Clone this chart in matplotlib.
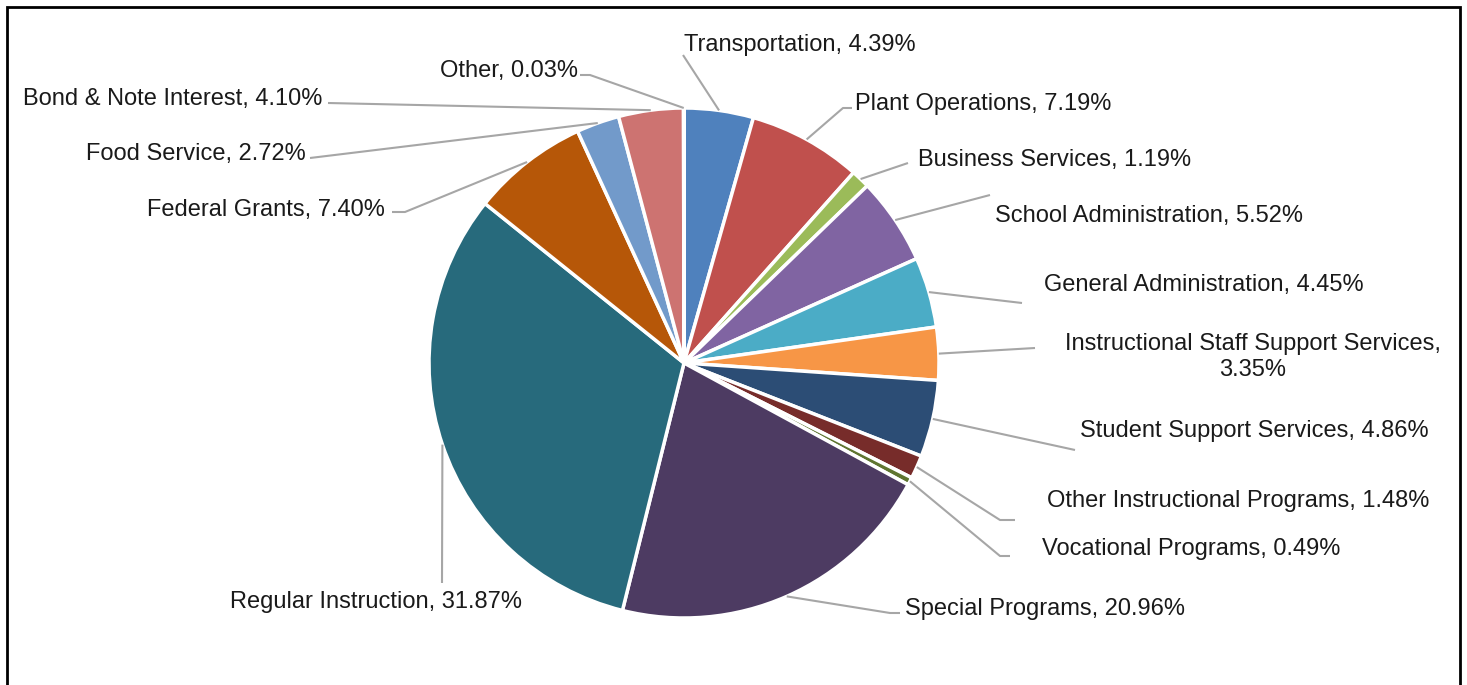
import matplotlib.pyplot as plt
import numpy as np
from matplotlib.patches import Rectangle

plt.rcParams['font.family'] = ['Liberation Sans', 'DejaVu Sans']

categories = ['Transportation', 'Plant Operations', 'Business Services',
              'School Administration', 'General Administration',
              'Instructional Staff Support Services', 'Student Support Services',
              'Other Instructional Programs', 'Vocational Programs',
              'Special Programs', 'Regular Instruction', 'Federal Grants',
              'Food Service', 'Bond & Note Interest', 'Other']
shares = [4.39, 7.19, 1.19, 5.52, 4.45, 3.35, 4.86, 1.48, 0.49,
          20.96, 31.87, 7.40, 2.72, 4.10, 0.03]

colors = ['#4F81BD', '#C0504D', '#9BBB59', '#8064A2', '#4BACC6', '#F79646',
          '#2C4D75', '#772C2A', '#5F7530', '#4D3B62', '#276A7C', '#B65708',
          '#729ACA', '#CD7371', '#A5A5A5']

W, H = 1467, 685
fig = plt.figure(figsize=(W / 100, H / 100), dpi=100)
ax = fig.add_axes([0, 0, 1, 1])
ax.set_xlim(0, W)
ax.set_ylim(0, H)
ax.set_aspect('equal')
ax.axis('off')

def py(y):  # pixel row -> data y
    return H - y

cx, cy, R = 684, 363, 255
ax.pie(shares, colors=colors, startangle=90, counterclock=False,
       center=(cx, py(cy)), radius=R,
       wedgeprops=dict(edgecolor='white', linewidth=2.5))
ax.set_xlim(0, W)
ax.set_ylim(0, H)

# label layout (pixels): text x, text y, alignment, leader elbow points
layout = [
    (684, 45, 'left', [(683, 55)]),
    (855, 104, 'left', [(843, 108), (852, 108)]),
    (918, 160, 'left', [(908, 163)]),
    (995, 216, 'left', [(990, 195)]),
    (1044, 285, 'left', [(1022, 303)]),
    (1253, 357, 'center', [(1035, 348)]),
    (1080, 431, 'left', [(1075, 450)]),
    (1047, 501, 'left', [(1000, 520), (1015, 520)]),
    (1042, 549, 'left', [(1000, 556), (1010, 556)]),
    (905, 609, 'left', [(890, 613), (900, 613)]),
    (522, 602, 'right', [(442, 583)]),
    (385, 210, 'right', [(405, 212), (392, 212)]),
    (306, 154, 'right', [(310, 158)]),
    (322, 99, 'right', [(328, 103)]),
    (578, 71, 'right', [(590, 75), (580, 75)]),
]

cum = np.cumsum([0] + shares)
total = cum[-1]
for i, (name, val) in enumerate(zip(categories, shares)):
    mid = (cum[i] + val / 2) / total * 2 * np.pi
    sx = cx + R * np.sin(mid)
    sy = cy - R * np.cos(mid)
    tx, ty, ha, pts = layout[i]
    xs = [sx] + [p[0] for p in pts]
    ys = [py(sy)] + [py(p[1]) for p in pts]
    ax.plot(xs, ys, color='#A6A6A6', linewidth=1.5, solid_capstyle='butt')
    if name == 'Instructional Staff Support Services':
        label = f'{name},\n{val:.2f}%'
    else:
        label = f'{name}, {val:.2f}%'
    ax.text(tx, py(ty), label, ha=ha, va='center', fontsize=17,
            color='#1A1A1A', linespacing=1.2)

ax.add_patch(Rectangle((7, py(700)), 1453, 693, fill=False,
                       edgecolor='black', linewidth=2, clip_on=False))

fig.savefig('out.png', dpi=100, facecolor='white')
